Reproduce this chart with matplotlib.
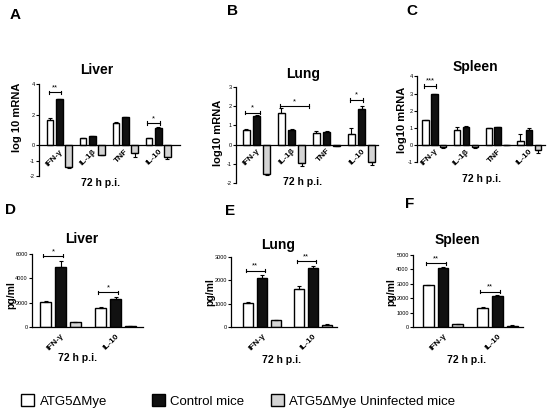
import numpy as np
import matplotlib
matplotlib.use("Agg")
import matplotlib.pyplot as plt

plt.rcParams['font.family'] = ['Liberation Sans', 'DejaVu Sans']

# mRNA panels (A-C), log10 mRNA
mrna_labels = ["IFN-γ", "IL-1β", "TNF", "IL-10"]

liver_ko = [1.68, 0.45, 1.48, 0.45]
liver_ko_err = [0.07, 0.03, 0.05, 0.04]
liver_ctrl = [3.0, 0.6, 1.85, 1.15]
liver_ctrl_err = [0.04, 0.03, 0.03, 0.06]
liver_uninf = [-1.42, -0.62, -0.47, -0.77]
liver_uninf_err = [0.04, 0.04, 0.3, 0.12]

lung_ko = [0.75, 1.67, 0.62, 0.54]
lung_ko_err = [0.05, 0.25, 0.08, 0.33]
lung_ctrl = [1.49, 0.76, 0.66, 1.84]
lung_ctrl_err = [0.05, 0.04, 0.04, 0.17]
lung_uninf = [-1.55, -0.94, -0.06, -0.89]
lung_uninf_err = [0.03, 0.17, 0.02, 0.17]

spleen_ko = [1.43, 0.9, 0.97, 0.25]
spleen_ko_err = [0.05, 0.12, 0.04, 0.38]
spleen_ctrl = [2.95, 1.03, 1.03, 0.87]
spleen_ctrl_err = [0.05, 0.1, 0.03, 0.12]
spleen_uninf = [-0.15, -0.15, -0.02, -0.3]
spleen_uninf_err = [0.03, 0.03, 0.01, 0.17]

# protein panels (D-F), pg/ml
prot_labels = ["IFN-γ", "IL-10"]

liver_p_ko = [2050, 1600]
liver_p_ko_err = [60, 40]
liver_p_ctrl = [4950, 2300]
liver_p_ctrl_err = [450, 150]
liver_p_uninf = [380, 100]
liver_p_uninf_err = [20, 10]

lung_p_ko = [1050, 1650]
lung_p_ko_err = [40, 100]
lung_p_ctrl = [2100, 2550]
lung_p_ctrl_err = [110, 70]
lung_p_uninf = [300, 100]
lung_p_uninf_err = [15, 10]

spleen_p_ko = [2900, 1330]
spleen_p_ko_err = [20, 40]
spleen_p_ctrl = [4100, 2150]
spleen_p_ctrl_err = [100, 40]
spleen_p_uninf = [180, 100]
spleen_p_uninf_err = [10, 10]

# significance marks: (group, bracket height, text, right end offset)
liver_sig = [(0, 3.45, "**", 0.0), (3, 1.45, "*", 0.0)]
lung_sig = [(0, 1.67, "*", 0.05), (1, 2.0, "*", 0.45), (3, 2.33, "*", 0.0)]
spleen_sig = [(0, 3.45, "***", 0.0)]
liver_p_sig = [(0, 5850, "*", 0.0), (1, 2850, "*", 0.0)]
lung_p_sig = [(0, 2420, "**", 0.0), (1, 2820, "**", 0.0)]
spleen_p_sig = [(0, 4420, "**", 0.0), (1, 2460, "**", 0.0)]

legend_labels = ["ATG5ΔMye", "Control mice", "ATG5ΔMye Uninfected mice"]

W, H = 550, 411
fig = plt.figure(figsize=(5.5, 4.11), dpi=100)


def px_axes(l, t, r, b):
    return fig.add_axes([l / W, 1 - b / H, (r - l) / W, (b - t) / H])


def draw_panel(ax, labels, ko, ko_err, ctrl, ctrl_err, uninf, uninf_err,
               sig, ylim, yticks, xlim, step, xpad=2, star_size=5.5):
    # spine position first, it resets the tick styling
    for s in ["top", "right"]:
        ax.spines[s].set_visible(False)
    ax.spines["bottom"].set_position(("data", 0))
    ax.spines["left"].set_linewidth(0.9)
    ax.spines["bottom"].set_linewidth(0.9)

    x = np.arange(len(labels))
    width = 0.2
    ekw = dict(elinewidth=0.8, capthick=0.8, ecolor="black")
    uninf_yerr = [[e if v < 0 else 0 for v, e in zip(uninf, uninf_err)],
                  [e if v >= 0 else 0 for v, e in zip(uninf, uninf_err)]]
    b1 = ax.bar(x - step, ko, width, color="white", edgecolor="black", lw=1,
                yerr=[np.zeros(len(ko)), ko_err], capsize=1.5, error_kw=ekw)
    b2 = ax.bar(x, ctrl, width, color="#111111", edgecolor="black", lw=1,
                yerr=[np.zeros(len(ctrl)), ctrl_err], capsize=1.5, error_kw=ekw)
    b3 = ax.bar(x + step, uninf, width, color="#d4d4d4", edgecolor="black", lw=1,
                yerr=uninf_yerr, capsize=1.5, error_kw=ekw)
    span = ylim[1] - ylim[0]
    for g, yb, txt, extra in sig:
        x0 = g - step - 0.05
        x1 = g + 0.05 + extra
        ax.plot([x0, x1], [yb, yb], color="black", lw=0.8)
        for xe in (x0, x1):
            ax.plot([xe, xe], [yb - span * 0.02, yb + span * 0.02], color="black", lw=0.8)
        ax.text((x0 + x1) / 2, yb + span * 0.012, txt,
                ha="center", va="bottom", fontsize=star_size)
    ax.set_xlim(*xlim)
    ax.set_ylim(*ylim)
    ax.set_yticks(yticks)
    ax.set_yticklabels([str(t) for t in yticks], fontsize=4)
    ax.set_xticks(x)
    ax.set_xticklabels(labels, rotation=45, ha="right", rotation_mode="anchor",
                       fontsize=6, fontweight="bold")
    ax.tick_params(axis="y", length=2, width=0.8, pad=1)
    ax.tick_params(axis="x", length=0, pad=xpad)
    return b1, b2, b3


axA = px_axes(39, 84, 180, 176)
bars = draw_panel(axA, mrna_labels, liver_ko, liver_ko_err, liver_ctrl, liver_ctrl_err,
                  liver_uninf, liver_uninf_err, liver_sig, (-2, 4), [-2, -1, 0, 2, 4],
                  (-0.62, 3.66), 0.28)
axB = px_axes(236, 87, 378, 183)
draw_panel(axB, mrna_labels, lung_ko, lung_ko_err, lung_ctrl, lung_ctrl_err,
           lung_uninf, lung_uninf_err, lung_sig, (-2, 3), [-2, -1, 0, 1, 2, 3],
           (-0.59, 3.47), 0.29)
axC = px_axes(417, 76.5, 545, 162)
draw_panel(axC, mrna_labels, spleen_ko, spleen_ko_err, spleen_ctrl, spleen_ctrl_err,
           spleen_uninf, spleen_uninf_err, spleen_sig, (-1, 4), [-1, 0, 1, 2, 3, 4],
           (-0.55, 3.5), 0.28)
axD = px_axes(32, 254, 143, 327)
draw_panel(axD, prot_labels, liver_p_ko, liver_p_ko_err, liver_p_ctrl, liver_p_ctrl_err,
           liver_p_uninf, liver_p_uninf_err, liver_p_sig, (0, 6000), [0, 2000, 4000, 6000],
           (-0.52, 1.5), 0.27, xpad=4)
axE = px_axes(231, 257, 337, 327)
draw_panel(axE, prot_labels, lung_p_ko, lung_p_ko_err, lung_p_ctrl, lung_p_ctrl_err,
           lung_p_uninf, lung_p_uninf_err, lung_p_sig, (0, 3000), [0, 1000, 2000, 3000],
           (-0.61, 1.47), 0.27, xpad=4)
axF = px_axes(413, 255, 523, 327)
draw_panel(axF, prot_labels, spleen_p_ko, spleen_p_ko_err, spleen_p_ctrl, spleen_p_ctrl_err,
           spleen_p_uninf, spleen_p_uninf_err, spleen_p_sig, (0, 5000),
           [0, 1000, 2000, 3000, 4000, 5000], (-0.55, 1.47), 0.27, xpad=4)


def ftext(x, y, s, **kw):
    fig.text(x / W, 1 - y / H, s, **kw)


# panel letters
for x, y, s in [(15, 15, "A"), (233, 11, "B"), (412, 11, "C"),
                (10, 210, "D"), (230, 211, "E"), (410, 204, "F")]:
    ftext(x, y, s, ha="center", va="center", fontsize=11, fontweight="bold")

# titles
for x, y, s in [(97, 70, "Liver"), (303, 74, "Lung"), (475, 67, "Spleen"),
                (82, 239, "Liver"), (278, 245, "Lung"), (457, 240, "Spleen")]:
    ftext(x, y, s, ha="center", va="center", fontsize=10, fontweight="bold")

# y labels
for x, y, s in [(17, 117, "log 10 mRNA"), (218, 133, "log10 mRNA"), (402, 120, "log10 mRNA")]:
    ftext(x, y, s, ha="center", va="center", rotation=90, fontsize=8, fontweight="bold")
for x, y, s in [(11, 295, "pg/ml"), (210, 292, "pg/ml"), (391, 292, "pg/ml")]:
    ftext(x, y, s, ha="center", va="center", rotation=90, fontsize=7.5, fontweight="bold")

# x labels
for x, y, s in [(101, 183, "72 h p.i."), (303, 182, "72 h p.i."), (482, 179, "72 h p.i."),
                (78, 358, "72 h p.i."), (282, 360, "72 h p.i."), (467, 360, "72 h p.i.")]:
    ftext(x, y, s, ha="center", va="center", fontsize=7.5, fontweight="bold")

# legend, one entry per box position as in the figure
for handle, label, xbox in zip(bars, legend_labels, [21, 152, 271]):
    fig.legend([handle], [label], loc="center left",
               bbox_to_anchor=(xbox / W, 1 - 401 / H), frameon=False,
               fontsize=9.5, handlelength=1.0, handleheight=1.0, handletextpad=0.4,
               borderpad=0, borderaxespad=0)

fig.savefig("out.png", dpi=100)
